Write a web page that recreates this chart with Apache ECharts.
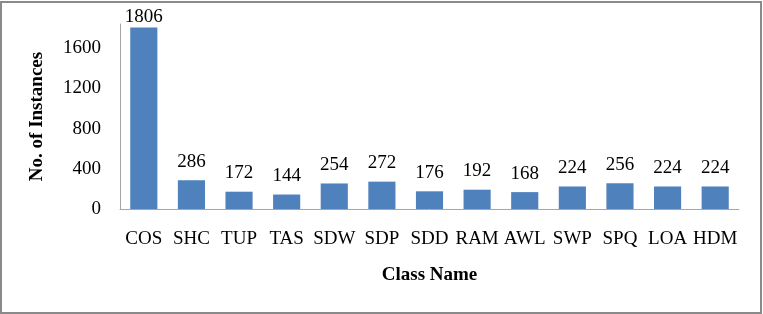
<!DOCTYPE html>
<html><head><meta charset="utf-8">
<script src="https://cdn.jsdelivr.net/npm/echarts@6/dist/echarts.min.js"></script>
<style>
html,body{margin:0;padding:0;background:#fff;}
#frame{position:absolute;left:0;top:1px;width:758px;height:309px;border:2px solid #8a8a8a;}
#c{position:absolute;left:0;top:0;width:763px;height:314px;}
</style></head>
<body>
<div id="frame"></div>
<div id="c"></div>
<script>
const categories = ['COS','SHC','TUP','TAS','SDW','SDP','SDD','RAM','AWL','SWP','SPQ','LOA','HDM'];
const instances = [1806,286,172,144,254,272,176,192,168,224,256,224,224];
const yTicks = [0,400,800,1200,1600];

const font = 'Liberation Serif, Times New Roman, serif';
const chart = echarts.init(document.getElementById('c'), null, {renderer:'canvas'});
chart.setOption({
  animation:false,
  grid:{left:120,right:24,top:24,bottom:105},
  xAxis:{
    type:'category', data:categories,
    name:'Class Name', nameLocation:'middle', nameGap:57,
    nameTextStyle:{fontFamily:font,fontSize:19,fontWeight:'bold',color:'#000'},
    axisLine:{lineStyle:{color:'#a6a6a6',width:1}},
    axisTick:{show:false},
    axisLabel:{fontFamily:font,fontSize:19,color:'#000',margin:21,interval:0}
  },
  yAxis:{
    type:'value', min:0, max:1840, interval:400,
    name:'No. of Instances', nameLocation:'middle', nameGap:73,
    nameTextStyle:{fontFamily:font,fontSize:19,fontWeight:'bold',color:'#000'},
    axisLine:{show:true,lineStyle:{color:'#a6a6a6',width:1}},
    axisTick:{show:false},
    splitLine:{show:false},
    axisLabel:{fontFamily:font,fontSize:19,color:'#000',margin:19,showMaxLabel:false,
      formatter:v=>yTicks.includes(v)?String(v):''}
  },
  series:[{
    type:'bar', barWidth:'57%',
    data:instances.map((v,i)=> i===0 ? {value:v,label:{distance:1}} : v),
    itemStyle:{color:'#4f81bd'},
    label:{show:true,position:'top',distance:9,fontFamily:font,fontSize:19,color:'#000'}
  }]
});
</script>
</body></html>
